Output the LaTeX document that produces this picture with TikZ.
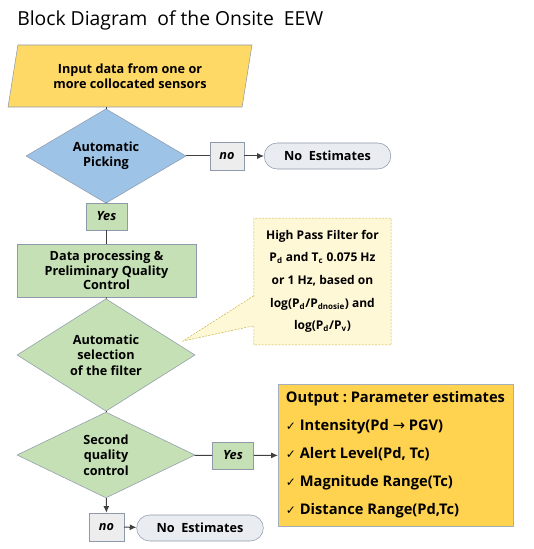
\documentclass[tikz,border=0pt]{standalone}
\usepackage{fontspec}
\setmainfont{Open Sans}
\newfontfamily\symfont{DejaVu Sans}
\usepackage{xcolor}
\usepackage{tikz}
\usetikzlibrary{arrows.meta, shapes.geometric, shapes.misc, shapes.callouts}
\definecolor{inputyellow}{HTML}{FFD966}
\definecolor{pickblue}{HTML}{9DC3E6}
\definecolor{procgreen}{HTML}{C5E0B4}
\definecolor{labelgray}{HTML}{EDEDED}
\definecolor{termgray}{HTML}{E9ECF0}
\definecolor{outgold}{HTML}{FFD350}
\definecolor{notefill}{HTML}{FFF8D6}
\definecolor{noteline}{HTML}{C8B44A}
\definecolor{edgegray}{HTML}{8E9AAB}
\definecolor{linegray}{HTML}{404040}
\newcommand{\chk}{{\symfont\mdseries\small\char"2713}}
\tikzset{
    inbox/.style={trapezium, trapezium left angle=75, trapezium right angle=105, trapezium stretches=true, draw=edgegray, fill=inputyellow, align=center, font=\bfseries\fontsize{9.5}{11.5}\selectfont, minimum width=183pt, minimum height=46.5pt, inner sep=0pt},
    decision/.style={diamond, draw=edgegray, fill=procgreen, align=center, font=\bfseries\fontsize{9.5}{11.5}\selectfont, inner sep=0pt},
    process/.style={rectangle, draw=edgegray, fill=procgreen, align=center, font=\bfseries\fontsize{9.5}{11}\selectfont, minimum width=134pt, minimum height=40pt, inner sep=0pt},
    answer/.style={rectangle, draw=edgegray, fill=procgreen, font=\bfseries\itshape\fontsize{9.5}{11}\selectfont, minimum width=31pt, minimum height=20.25pt, inner sep=0pt},
    term/.style={rounded rectangle, draw=edgegray, fill=termgray, font=\bfseries\fontsize{9.5}{11}\selectfont, minimum width=95pt, minimum height=19.5pt, inner sep=0pt},
    note/.style={rectangle callout, draw=noteline, dash pattern=on 1.5pt off 1pt, fill=notefill, align=center, font=\bfseries\fontsize{9}{17}\selectfont, minimum width=103pt, minimum height=95pt, inner sep=0pt, callout pointer width=22.5pt},
    output/.style={rectangle, draw=edgegray!80, fill=outgold, align=left, font=\bfseries\fontsize{11}{21}\selectfont, minimum width=176pt, minimum height=106.5pt, inner sep=0pt},
    line/.style={draw=linegray, line width=0.75pt},
    arrow/.style={line, -{Latex[length=5pt,width=4.5pt]}}
}
\begin{document}
\begin{tikzpicture}[x=0.75pt, y=-0.75pt]
    \useasboundingbox (0,0) rectangle (533,549);

    % Title
    \node[anchor=west, inner sep=0pt, font=\fontsize{14.5}{16}\selectfont] (title) at (17,20) {Block\ Diagram\ \ of\ the\ Onsite\ \ EEW};

    % Main flow
    \node[inbox] (input) at (130,76) {Input data from one or\\more collocated sensors};
    \node[decision, fill=pickblue, minimum width=120pt, minimum height=57pt] (pick) at (106,156) {Automatic\\Picking};
    \node[answer] (yes1) at (106.5,216.5) {Yes};
    \node[process] (proc) at (106.5,270.5) {Data processing \&\\Preliminary Quality\\Control};
    \node[decision, minimum width=133.5pt, minimum height=66.75pt] (sel) at (106,355) {Automatic\\selection\\of the filter};
    \node[decision, minimum width=133.5pt, minimum height=64pt] (qc) at (106,455) {Second\\quality\\control};

    % Rejections
    \node[answer, fill=labelgray, minimum width=25.5pt, minimum height=21pt] (no1) at (227,156) {no};
    \node[term] (none1) at (327.5,156) {No\ \ Estimates};
    \node[answer, fill=labelgray, minimum width=26pt, minimum height=21pt] (no2) at (106.5,527) {no};
    \node[term] (none2) at (200,528) {No\ \ Estimates};

    % Filter note
    \coordinate (tip) at (183,341);
    \node[note, callout absolute pointer={(tip)}] (filt) at (322.5,281.5) {High Pass Filter for\\P\textsubscript{d} and T\textsubscript{c} 0.075 Hz\\or 1 Hz, based on\\log(P\textsubscript{d}/P\textsubscript{dnosie}) and\\log(P\textsubscript{d}/P\textsubscript{v})};

    % Output
    \node[answer] (yes2) at (233,455.5) {Yes};
    \node[output] (out) at (395.5,455) {Output\ :\ Parameter estimates\\
        \chk\ Intensity(Pd {\symfont\mdseries→} PGV)\\
        \chk\ Alert\ Level(Pd,\ Tc)\\
        \chk\ Magnitude\ Range(Tc)\\
        \chk\ Distance\ Range(Pd,Tc)};

    % Connections
    \draw[line] (pick.north |- input.south) -- (pick.north);
    \draw[line] (pick) -- (no1);
    \draw[arrow] (no1) -- (none1);
    \draw[line] (pick) -- (yes1);
    \draw[line] (yes1) -- (proc);
    \draw[line] (proc) -- (sel);
    \draw[line] (sel) -- (qc);
    \draw[line] (qc) -- (yes2);
    \draw[arrow] (yes2) -- (out);
    \draw[arrow] (qc) -- (no2);
    \draw[arrow] (no2) -- (none2);
\end{tikzpicture}
\end{document}
